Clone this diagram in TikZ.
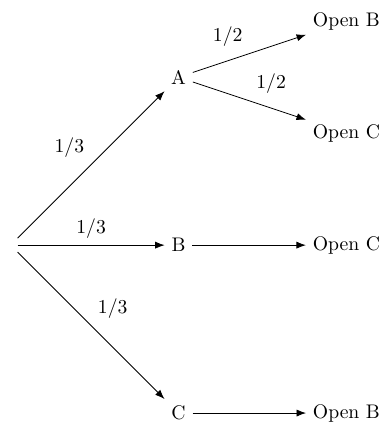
\documentclass[tikz,border=0pt]{standalone}
\usepackage{amsfonts,amsmath,amssymb}
\usetikzlibrary{arrows.meta}
\tikzset{
  every picture/.style={line join=round, >=Latex},
}

\begin{document}
\begin{tikzpicture}
\useasboundingbox (-0.19,-3.16) rectangle (6.76,4.38);
\node (root) at (0,0) {};
\node (a) at (3,3) {A};
\node (b) at (3,0) {B};
\node (c) at (3,-3) {C};
\node (aob) at (6,4) {Open B};
\node (aoc) at (6,2) {Open C};
\node (boc) at (6,0) {Open C};
\node (cob) at (6,-3) {Open B};
\draw[->](root)--node[above left]{$1/3$}(a);
\draw[->](root)--node[above]{$1/3$}(b);
\draw[->](root)--node[above right]{$1/3$}(c);
\draw[->](a)--node[above left]{$1/2$}(aob);
\draw[->](a)--node[above right]{$1/2$}(aoc);
\draw[->](b)--(boc);
\draw[->](c)--(cob);
\end{tikzpicture}
\end{document}
